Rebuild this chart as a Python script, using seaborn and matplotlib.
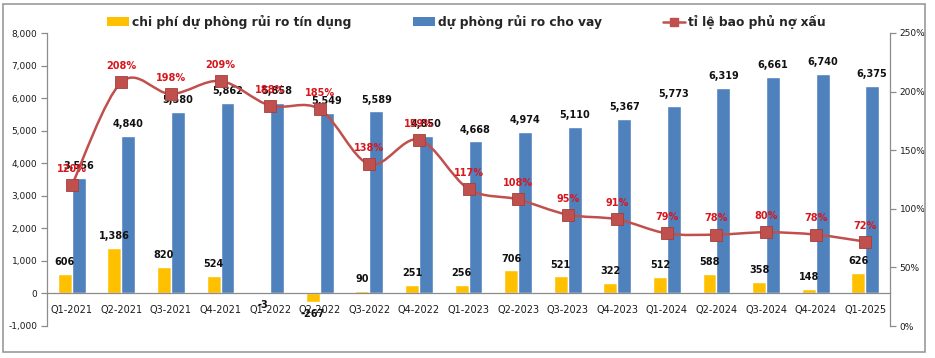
import numpy as np
import pandas as pd
import matplotlib
matplotlib.use('Agg')
import matplotlib.pyplot as plt
import seaborn as sns
from matplotlib.path import Path
from matplotlib.patches import PathPatch, Patch, Rectangle
from matplotlib.lines import Line2D
from matplotlib.ticker import FuncFormatter, MultipleLocator

# Data
quarters = ['Q1-2021', 'Q2-2021', 'Q3-2021', 'Q4-2021', 'Q1-2022', 'Q2-2022', 'Q3-2022', 'Q4-2022',
            'Q1-2023', 'Q2-2023', 'Q3-2023', 'Q4-2023', 'Q1-2024', 'Q2-2024', 'Q3-2024', 'Q4-2024',
            'Q1-2025']
credit_cost = [606, 1386, 820, 524, -3, -267, 90, 251, 256, 706, 521, 322, 512, 588, 358, 148, 626]
loan_provision = [3556, 4840, 5580, 5862, 5858, 5549, 5589, 4850, 4668, 4974, 5110, 5367, 5773,
                  6319, 6661, 6740, 6375]
coverage_pct = [120, 208, 198, 209, 188, 185, 138, 159, 117, 108, 95, 91, 79, 78, 80, 78, 72]

name_cost = 'chi phí dự phòng rủi ro tín dụng'
name_prov = 'dự phòng rủi ro cho vay'
name_cov = 'tỉ lệ bao phủ nợ xấu'

YELLOW = '#FFC000'
BLUE = '#4F81BD'
LINE_RED = '#C0504D'
LABEL_RED = '#D8161C'
GRAY = '#8C8C8C'

sns.set_style('white')
plt.rcParams['font.family'] = ['DejaVu Sans']

df = pd.DataFrame({
    'quarter': quarters * 2,
    'value': credit_cost + loan_provision,
    'series': [name_cost] * len(quarters) + [name_prov] * len(quarters),
})

fig = plt.figure(figsize=(9.35, 3.58), dpi=100)
ax = fig.add_axes([47 / 935, 1 - 326 / 358, (890 - 47) / 935, (326 - 33) / 358])

sns.barplot(data=df, x='quarter', y='value', hue='series', order=quarters,
            hue_order=[name_cost, name_prov], palette=[YELLOW, BLUE],
            width=0.56, saturation=1, legend=False, ax=ax)

ax.set_xlim(-0.5, len(quarters) - 0.5)
ax.set_ylim(-1000, 8000)
ax.yaxis.set_major_locator(MultipleLocator(1000))
ax.yaxis.set_major_formatter(FuncFormatter(lambda v, p: f'{v:,.0f}'))
ax.set_xlabel('')
ax.set_ylabel('')

# x axis sits on the zero line, ticks between categories
ax.spines['bottom'].set_position(('data', 0))
ax.spines['top'].set_visible(False)
ax.spines['right'].set_visible(False)
for s in ['left', 'bottom']:
    ax.spines[s].set_color(GRAY)
    ax.spines[s].set_linewidth(0.9)
ax.set_xticks(np.arange(len(quarters)))
ax.set_xticklabels(quarters)
ax.set_xticks(np.arange(len(quarters) + 1) - 0.5, minor=True)
ax.tick_params(axis='x', which='major', length=0, pad=8, labelsize=7, labelcolor='#1a1a1a')
ax.tick_params(axis='x', which='minor', length=4, color=GRAY, width=0.9, direction='out')
ax.tick_params(axis='y', length=4, color=GRAY, width=0.9, direction='out', labelsize=6.5,
               labelcolor='#1a1a1a', pad=3, left=True)

# value labels on bars
for cont in ax.containers:
    ax.bar_label(cont, labels=[f'{v:,.0f}' for v in cont.datavalues], padding=5,
                 fontsize=7, fontweight='bold', color='#111111')

# secondary axis: coverage ratio
ax2 = ax.twinx()
ax2.set_ylim(0, 250)
ax2.yaxis.set_major_locator(MultipleLocator(50))
ax2.yaxis.set_major_formatter(FuncFormatter(lambda v, p: f'{v:.0f}%'))
for s in ['top', 'left', 'bottom']:
    ax2.spines[s].set_visible(False)
ax2.spines['right'].set_color(GRAY)
ax2.spines['right'].set_linewidth(0.9)
ax2.tick_params(axis='y', length=4, color=GRAY, width=0.9, direction='out', labelsize=6.5,
                labelcolor='#1a1a1a', pad=3)

# smoothed line (Catmull-Rom as cubic Bezier), like Excel's smoothed line
xs = np.arange(len(quarters), dtype=float)
ys = np.array(coverage_pct, dtype=float)
pts = np.column_stack([xs, ys])
verts = [pts[0]]
codes = [Path.MOVETO]
for i in range(len(pts) - 1):
    p0 = pts[i - 1] if i > 0 else pts[i]
    p1 = pts[i]
    p2 = pts[i + 1]
    p3 = pts[i + 2] if i + 2 < len(pts) else pts[i + 1]
    c1 = p1 + (p2 - p0) / 6.0
    c2 = p2 - (p3 - p1) / 6.0
    verts += [c1, c2, p2]
    codes += [Path.CURVE4] * 3
ax2.add_patch(PathPatch(Path(verts, codes), facecolor='none', edgecolor=LINE_RED, lw=1.8,
                        zorder=3))
ax2.plot(xs, ys, ls='none', marker='s', ms=8, mfc=LINE_RED, mec='#A33F3C', mew=0.6, zorder=4)

for x, y in zip(xs, ys):
    ax2.annotate(f'{y:.0f}%', (x, y), xytext=(0, 8), textcoords='offset points',
                 ha='center', va='bottom', fontsize=7, fontweight='bold', color=LABEL_RED,
                 zorder=5)

# legend on top
handles = [Patch(facecolor=YELLOW, edgecolor='none'),
           Patch(facecolor=BLUE, edgecolor='none'),
           Line2D([0], [0], color=LINE_RED, lw=1.8, marker='s', ms=6, mfc=LINE_RED, mec=LINE_RED)]
fig.legend(handles, [name_cost, name_prov, name_cov], loc='center', ncol=3,
           bbox_to_anchor=(0.499, 1 - 22 / 358), frameon=False, columnspacing=5.0,
           handlelength=1.8, handleheight=0.75, handletextpad=0.25,
           prop={'size': 8.8, 'weight': 'bold'})

# outer border
fig.patches.append(Rectangle((3 / 935, 1 - 352 / 358), (925 - 3) / 935, (352 - 4) / 358,
                             transform=fig.transFigure, fill=False, edgecolor='#9a9a9a', lw=1.2))

fig.savefig('out.png', dpi=100)
